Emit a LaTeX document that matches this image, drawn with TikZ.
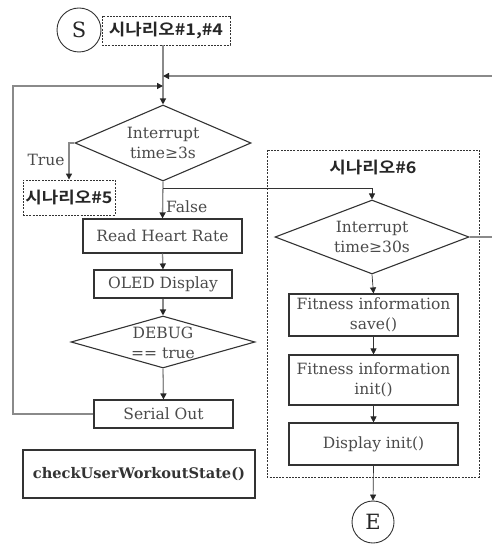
\documentclass[tikz,border=0pt]{standalone}
\usepackage{fontspec}
\setmainfont{DejaVu Serif}
\newfontfamily\krfont{Noto Sans CJK KR}[BoldFont={Noto Sans CJK KR Bold}, FakeStretch=1.12]
\usetikzlibrary{shapes.geometric,arrows.meta}
\definecolor{txt}{HTML}{4A4A4A}
\definecolor{edge}{HTML}{333333}
\definecolor{flow}{HTML}{8A8A8A}
\tikzset{
  x=1pt, y=-1pt,
  every node/.style={text=txt, font=\fontsize{15.5}{19.5}\selectfont},
  procbox/.style={draw=edge, line width=1.1pt, rectangle, inner sep=0pt, align=center},
  decide/.style={draw=edge, line width=1.1pt, diamond, inner sep=0pt},
  dtext/.style={align=center, inner sep=0pt},
  krtext/.style={font=\krfont\bfseries\fontsize{16}{18}\selectfont, text=black!85},
  tagbox/.style={draw=edge, line width=0.9pt, dashed, dash pattern=on 2pt off 1.2pt, rectangle, inner sep=0pt, krtext},
  terminal/.style={draw=edge, line width=0.9pt, circle, inner sep=0pt, minimum size=44pt,
     font=\fontsize{21}{23}\selectfont, text=black!85},
  conn/.style={draw=flow, line width=1.3pt},
  thin/.style={draw=edge, line width=0.7pt},
  tip/.style={-{Triangle[length=6pt,width=6pt,color=black!85]}},
}
\begin{document}
\begin{tikzpicture}
\useasboundingbox (0,0) rectangle (491,545);

% start / end terminals
\node[terminal] (S) at (79,30) {S};
\node[terminal, minimum size=42pt] (E) at (373,522) {E};

% scenario tags
\node[tagbox, minimum width=128pt, minimum height=29pt] (s14) at (166,30.5) {시나리오\#1,\#4};
\node[tagbox, minimum width=92pt, minimum height=35pt] (s5) at (69,197.5) {시나리오\#5};

% scenario 6 group frame
\draw[draw=edge, line width=0.9pt, dash pattern=on 2pt off 1.2pt] (267,150) rectangle (479,477);
\node[krtext] (s6) at (373,168) {시나리오\#6};

% main loop (diamond outlines sized explicitly, their text set on top)
\node[decide, minimum width=176pt, minimum height=76pt] (d1) at (163,143) {};
\node[dtext] (d1t) at (d1.center) {Interrupt\\time≥3s};
\node[procbox, minimum width=159pt, minimum height=34pt] (rhr) at (162.5,236) {Read Heart Rate};
\node[procbox, minimum width=138pt, minimum height=28pt] (oled) at (163,284) {OLED Display};
\node[decide, minimum width=184pt, minimum height=52pt] (dbg) at (163,342) {};
\node[dtext] (dbgt) at (163,343) {DEBUG\\== true};
\node[procbox, minimum width=139pt, minimum height=28pt] (ser) at (163.5,414) {Serial Out};

\node[procbox, minimum width=232pt, minimum height=48pt, font=\bfseries\fontsize{14.6}{17}\selectfont, text=black!80] (cuws) at (139,474) {checkUserWorkoutState()};

% scenario 6 steps
\node[decide, minimum width=194pt, minimum height=74pt] (d2) at (372,237) {};
\node[dtext] (d2t) at (d2.center) {Interrupt\\time≥30s};
\node[procbox, minimum width=169pt, minimum height=42pt] (fsave) at (373.5,315) {Fitness information\\save()};
\node[procbox, minimum width=169pt, minimum height=50pt] (finit) at (373.5,380) {Fitness information\\init()};
\node[procbox, minimum width=169pt, minimum height=42pt] (dinit) at (373.5,444) {Display init()};

% junction points on the main line
\coordinate (j1) at (163,76);
\coordinate (j2) at (163,86);
\coordinate (split) at (163,188);

% connectors
\draw[conn] (d1.north |- s14.south) -- (j1);
\draw[conn, tip] (j1) -- (d1.north);
\draw[conn, tip] (ser.west) -- (13,414) |- (j2);
\draw[conn, tip] (d2.east) -- (505,237) |- (j1);
\draw[conn, tip] (d1.west) -| (s5.north);
\node (tlab) at (46,160) {True};
\draw[conn, tip] (d1.south) -- (rhr.north);
\node[anchor=west, inner sep=0pt] (flab) at (166,207) {False};
\draw[thin, tip] (split) -| (d2.north);
\draw[conn, tip] (rhr.south) -- (oled.north);
\draw[conn, tip] (oled.south) -- (dbg.north);
\draw[conn, tip] (dbg.south) -- (ser.north);

\draw[thin, tip] (d2.south) -- (fsave.north);
\draw[thin, tip] (fsave.south) -- (finit.north);
\draw[thin, tip] (finit.south) -- (dinit.north);
\draw[thin, tip] (dinit.south) -- (E.north);
\end{tikzpicture}
\end{document}
